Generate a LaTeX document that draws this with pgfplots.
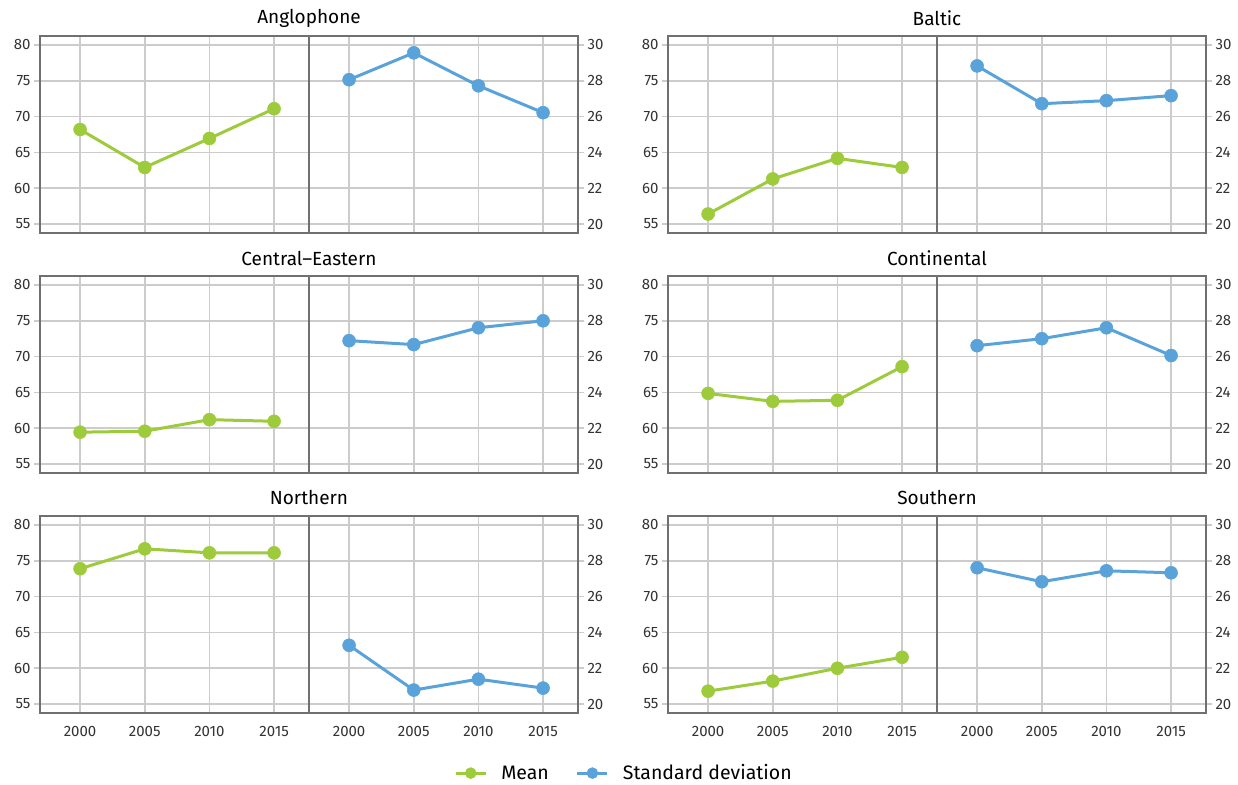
\documentclass[border=0pt]{standalone}
\usepackage{fontspec}
\setmainfont{Fira Sans}
\usepackage{pgfplots}
\pgfplotsset{compat=1.18}

\definecolor{meangreen}{HTML}{9DCB3B}
\definecolor{sdblue}{HTML}{59A3DA}
\definecolor{gridgray}{HTML}{CCCCCC}
\definecolor{framegray}{HTML}{707070}
\definecolor{textgray}{HTML}{333333}

\newcommand{\tickfont}{\fontsize{15}{17}\selectfont}
\newcommand{\titlefont}{\fontsize{19}{22}\selectfont}

\pgfplotsset{
  half/.style={
    scale only axis, width=269pt, height=197pt, anchor=north west,
    xmin=1996.9, xmax=2017.7,
    xtick={2000,2005,2010,2015},
    grid=major,
    major grid style={gridgray, line width=1.5pt},
    axis line style={framegray, line width=1.5pt},
    tick align=outside,
    major tick length=6pt,
    tick style={gridgray, line width=1.5pt},
    xtick style={draw=none},
    tick label style={font=\tickfont, text=textgray},
    /pgf/number format/assume math mode=true,
    /pgf/number format/1000 sep={},
  },
  leftax/.style={half, ymin=53.75, ymax=81.25, ytick={55,60,...,80}, ytick pos=left},
  rightax/.style={half, ymin=19.5, ymax=30.5, ytick={20,22,...,30}, ytick pos=right},
  noxlab/.style={xticklabels={}},
  xlab/.style={xticklabel style={yshift=-4pt}},
  meanline/.style={meangreen, line width=3pt, mark=*, mark size=6.5pt, mark options={fill=meangreen, draw=meangreen, line width=0.5pt}},
  sdline/.style={sdblue, line width=3pt, mark=*, mark size=6.5pt, mark options={fill=sdblue, draw=sdblue, line width=0.5pt}},
}

% #1 x of panel, #2 top of panel, #3 title, #4 mean, #5 sd, #6 x label style
\newcommand{\panel}[6]{%
  \begin{axis}[leftax, at={(#1pt,-#2pt)}, #6]
    \addplot[meanline] coordinates {#4};
  \end{axis}
  \begin{axis}[rightax, at={(#1pt+269pt,-#2pt)}, #6]
    \addplot[sdline] coordinates {#5};
  \end{axis}
  \node[font=\titlefont, text=black] at (#1pt+269pt,-#2pt+18pt) {#3};
}

\begin{document}
\begin{tikzpicture}
\useasboundingbox (0,0) rectangle (1238pt,-784pt);

\panel{40}{36}{Anglophone}
  {(2000,68.2) (2005,62.9) (2010,66.95) (2015,71.1)}
  {(2000,28.06) (2005,29.56) (2010,27.72) (2015,26.22)}{noxlab}
\panel{668}{36}{Baltic}
  {(2000,56.4) (2005,61.3) (2010,64.17) (2015,62.9)}
  {(2000,28.83) (2005,26.72) (2010,26.89) (2015,27.17)}{noxlab}
\panel{40}{276}{Central–Eastern}
  {(2000,59.45) (2005,59.58) (2010,61.2) (2015,60.97)}
  {(2000,26.89) (2005,26.67) (2010,27.61) (2015,28.0)}{noxlab}
\panel{668}{276}{Continental}
  {(2000,64.86) (2005,63.75) (2010,63.9) (2015,68.6)}
  {(2000,26.61) (2005,27.0) (2010,27.61) (2015,26.06)}{noxlab}
\panel{40}{516}{Northern}
  {(2000,73.89) (2005,76.67) (2010,76.11) (2015,76.11)}
  {(2000,23.28) (2005,20.78) (2010,21.39) (2015,20.89)}{xlab}
\panel{668}{516}{Southern}
  {(2000,56.8) (2005,58.2) (2010,60.0) (2015,61.53)}
  {(2000,27.61) (2005,26.83) (2010,27.44) (2015,27.33)}{xlab}

% legend
\begin{axis}[
  scale only axis, width=269pt, height=197pt, anchor=north west,
  at={(309pt,-516pt)}, hide axis, xmin=0, xmax=1, ymin=0, ymax=1,
  legend columns=2,
  legend style={at={(1.171,-0.305)}, anchor=center, draw=none, fill=none,
    font=\fontsize{19.5}{22}\selectfont, text=black,
    /tikz/every odd column/.append style={column sep=12pt},
    /tikz/every even column/.append style={column sep=25pt}},
  legend image code/.code={%
    \draw[mark repeat=2, mark phase=2, #1] plot coordinates {(0pt,0pt) (15pt,0pt) (30pt,0pt)};},
]
\addlegendimage{meanline, mark size=5.5pt}
\addlegendentry{Mean}
\addlegendimage{sdline, mark size=5.5pt}
\addlegendentry{Standard deviation}
\end{axis}
\end{tikzpicture}
\end{document}
